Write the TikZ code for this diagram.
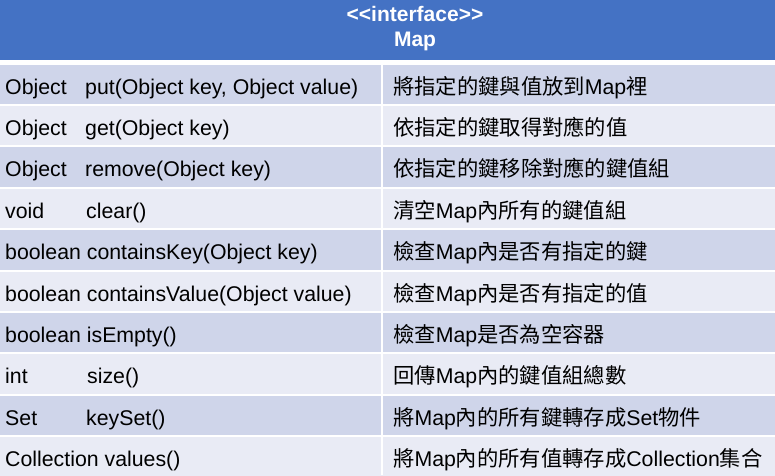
\documentclass[tikz,border=0pt]{standalone}
\usepackage{fontspec}
\setmainfont{Liberation Sans}
\newfontfamily\zh{Noto Sans CJK TC}
\definecolor{headblue}{HTML}{4472C4}
\definecolor{rowdark}{HTML}{CFD5EA}
\definecolor{rowlight}{HTML}{E9EBF5}

\begin{document}
\begin{tikzpicture}[x=1pt,y=-1pt,
  cell/.style={anchor=base west,inner sep=0pt,font=\fontsize{21.3}{25}\selectfont},
  head/.style={anchor=base,inner sep=0pt,text=white,font=\fontsize{21}{25}\bfseries\selectfont}]
\useasboundingbox (0,0) rectangle (775,475);
\fill[white] (0,0) rectangle (775,475);
\fill[headblue] (0,0) rectangle (775,60);
\foreach \i in {0,2,...,8}
  \fill[rowdark] (0,{63.6+41.4*\i}) rectangle (775,{63.6+41.4*(\i+1)});
\foreach \i in {1,3,...,9}
  \fill[rowlight] (0,{63.6+41.4*\i}) rectangle (775,{63.6+41.4*(\i+1)});
\fill[white] (0,60) rectangle (775,65);
\foreach \i in {1,...,9}
  \draw[white,line width=2pt] (0,{63.6+41.4*\i}) -- (775,{63.6+41.4*\i});
\draw[white,line width=2pt] (382,65) -- (382,475);

\node [head] (iface) at (415,21.7) {{<}{<}interface{>}{>}};
\node [head] (mapname) at (415,46.7) {Map};

\node [cell] (t1) at (5,94) {Object};
\node [cell] (m1) at (85,94) {put(Object key, Object value)};
\node [cell] (d1) at (393,94) {{\zh 將指定的鍵與值放到}Map{\zh 裡}};

\node [cell] (t2) at (5,135.4) {Object};
\node [cell] (m2) at (85,135.4) {get(Object key)};
\node [cell] (d2) at (393,135.4) {\zh 依指定的鍵取得對應的值};

\node [cell] (t3) at (5,176.8) {Object};
\node [cell] (m3) at (85,176.8) {remove(Object key)};
\node [cell] (d3) at (393,176.8) {\zh 依指定的鍵移除對應的鍵值組};

\node [cell] (t4) at (5,218.2) {void};
\node [cell] (m4) at (86,218.2) {clear()};
\node [cell] (d4) at (393,218.2) {{\zh 清空}Map{\zh 內所有的鍵值組}};

\node [cell] (m5) at (5,259.6) {boolean containsKey(Object key)};
\node [cell] (d5) at (393,259.6) {{\zh 檢查}Map{\zh 內是否有指定的鍵}};

\node [cell] (m6) at (5,301) {boolean containsValue(Object value)};
\node [cell] (d6) at (393,301) {{\zh 檢查}Map{\zh 內是否有指定的值}};

\node [cell] (m7) at (5,342.4) {boolean isEmpty()};
\node [cell] (d7) at (393,342.4) {{\zh 檢查}Map{\zh 是否為空容器}};

\node [cell] (t8) at (5,383.8) {int};
\node [cell] (m8) at (87,383.8) {size()};
\node [cell] (d8) at (393,383.8) {{\zh 回傳}Map{\zh 內的鍵值組總數}};

\node [cell] (t9) at (5,425.2) {Set};
\node [cell] (m9) at (86,425.2) {keySet()};
\node [cell] (d9) at (393,425.2) {{\zh 將}Map{\zh 內的所有鍵轉存成}Set{\zh 物件}};

\node [cell] (m10) at (5,466) {Collection values()};
\node [cell] (d10) at (393,466) {{\zh 將}Map{\zh 內的所有值轉存成}Collection{\zh 集合}};
\end{tikzpicture}
\end{document}
